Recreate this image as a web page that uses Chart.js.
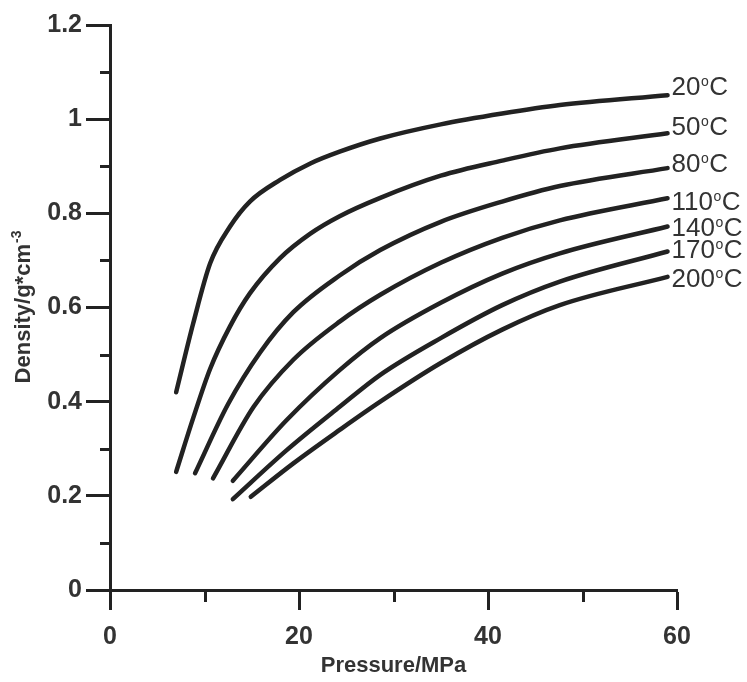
<!DOCTYPE html>
<html>
<head>
<meta charset="utf-8">
<script src="https://cdn.jsdelivr.net/npm/chart.js@4.4.1/dist/chart.umd.min.js"></script>
<style>
  html, body { margin: 0; padding: 0; background: #ffffff; }
  #wrap { width: 747px; height: 682px; position: relative; }
</style>
</head>
<body>
<div id="wrap"><canvas id="c" width="747" height="682"></canvas></div>
<script>
// ---------- data ----------
const temperatures = [20, 50, 80, 110, 140, 170, 200];

const pressure20 = [7, 8.8, 10.6, 12.7, 14.8, 18, 21.2, 24.3, 28.6, 35, 41.5, 47.6, 59];
const density20  = [0.42, 0.566, 0.694, 0.772, 0.825, 0.871, 0.906, 0.931, 0.959, 0.989, 1.012, 1.030, 1.051];

const pressure50 = [7, 8.8, 10.6, 12.7, 14.8, 18, 21.2, 24.3, 28.6, 35, 41.5, 47.6, 59];
const density50  = [0.251, 0.365, 0.47, 0.56, 0.63, 0.705, 0.757, 0.794, 0.833, 0.880, 0.912, 0.938, 0.970];

const pressure80 = [9, 12.5, 15.9, 19.4, 24.3, 28.6, 35, 41.5, 47.6, 59];
const density80  = [0.248, 0.395, 0.505, 0.59, 0.668, 0.722, 0.782, 0.825, 0.858, 0.896];

const pressure110 = [10.9, 15.2, 19.4, 24.3, 28.6, 35, 41.5, 47.6, 59];
const density110  = [0.237, 0.389, 0.489, 0.57, 0.627, 0.695, 0.748, 0.785, 0.832];

const pressure140 = [13, 18.7, 24.3, 28.6, 35, 41.5, 47.6, 59];
const density140  = [0.232, 0.361, 0.467, 0.535, 0.61, 0.672, 0.715, 0.772];

const pressure170 = [13, 18.7, 24.3, 28.6, 35, 41.5, 47.6, 59];
const density170  = [0.193, 0.297, 0.389, 0.457, 0.535, 0.605, 0.655, 0.719];

const pressure200 = [14.9, 19.4, 24.3, 28.6, 35, 41.5, 47.6, 59];
const density200  = [0.198, 0.269, 0.340, 0.400, 0.482, 0.553, 0.605, 0.665];

const xTickValues = [0, 10, 20, 30, 40, 50, 60];
const xTickLabels = ['0', '', '20', '', '40', '', '60'];
const yTickLabels = ['0', '', '0.2', '', '0.4', '', '0.6', '', '0.8', '', '1', '', '1.2'];

const xTitle = 'Pressure/MPa';
const yTitleMain = 'Density/g*cm';
const yTitleSup = '-3';

// ---------- styling ----------
const INK = '#222222';
const TEXT = '#333333';
const labelShift = [-10, -8, -6, 2, 0, -3, 1]; // px offset of the end labels

const pressures = [pressure20, pressure50, pressure80, pressure110, pressure140, pressure170, pressure200];
const densities = [density20, density50, density80, density110, density140, density170, density200];

const datasets = temperatures.map((t, i) => ({
  label: t + '°C',
  data: pressures[i].map((p, j) => ({ x: p, y: densities[i][j] })),
  borderColor: INK,
  borderWidth: 4.5,
  borderCapStyle: 'round',
  borderJoinStyle: 'round',
  pointRadius: 0,
  fill: false,
  cubicInterpolationMode: 'monotone',
  clip: false
}));

const minorTicks = {
  id: 'minorTicks',
  afterDraw(chart) {
    const ctx = chart.ctx;
    const xs = chart.scales.x, ys = chart.scales.y;
    const a = chart.chartArea;
    ctx.save();
    ctx.strokeStyle = INK;
    ctx.lineWidth = 3;
    ctx.lineCap = 'butt';
    ys.ticks.forEach((t, i) => {
      if (yTickLabels[i] === '') {
        const py = Math.round(ys.getPixelForValue(t.value)) + 0.5;
        ctx.beginPath(); ctx.moveTo(a.left - 10, py); ctx.lineTo(a.left, py); ctx.stroke();
      }
    });
    xs.ticks.forEach((t, i) => {
      if (xTickLabels[i] === '') {
        const px = Math.round(xs.getPixelForValue(t.value)) + 0.5;
        ctx.beginPath(); ctx.moveTo(px, a.bottom); ctx.lineTo(px, a.bottom + 12); ctx.stroke();
      }
    });
    ctx.restore();
  }
};

const textLayer = {
  id: 'textLayer',
  afterDatasetsDraw(chart) {
    const ctx = chart.ctx;
    const a = chart.chartArea;
    ctx.save();
    ctx.fillStyle = TEXT;
    ctx.textBaseline = 'alphabetic';
    // end labels
    chart.data.datasets.forEach((ds, i) => {
      const meta = chart.getDatasetMeta(i);
      const pt = meta.data[meta.data.length - 1];
      let x = pt.x + 4;
      const base = pt.y + labelShift[i] + 9.5;
      ctx.textAlign = 'left';
      ctx.font = '26px "Liberation Sans", Arial, sans-serif';
      const num = String(temperatures[i]);
      ctx.fillText(num, x, base);
      x += ctx.measureText(num).width + 0.5;
      ctx.font = '14px "Liberation Sans", Arial, sans-serif';
      ctx.fillText('o', x, base - 9);
      x += ctx.measureText('o').width + 0.5;
      ctx.font = '26px "Liberation Sans", Arial, sans-serif';
      ctx.fillText('C', x, base);
    });
    // x title
    ctx.font = 'bold 22px "Liberation Sans", Arial, sans-serif';
    ctx.textAlign = 'center';
    ctx.fillText(xTitle, (a.left + a.right) / 2, 672);
    // y title (rotated, with superscript)
    ctx.translate(30, (a.top + a.bottom) / 2);
    ctx.rotate(-Math.PI / 2);
    ctx.textAlign = 'left';
    ctx.font = 'bold 22px "Liberation Sans", Arial, sans-serif';
    const w1 = ctx.measureText(yTitleMain).width;
    ctx.font = 'bold 14px "Liberation Sans", Arial, sans-serif';
    const w2 = ctx.measureText(yTitleSup).width;
    const start = -(w1 + w2) / 2;
    ctx.font = 'bold 22px "Liberation Sans", Arial, sans-serif';
    ctx.fillText(yTitleMain, start, 0);
    ctx.font = 'bold 14px "Liberation Sans", Arial, sans-serif';
    ctx.fillText(yTitleSup, start + w1 + 1, -9);
    ctx.restore();
  }
};

new Chart(document.getElementById('c'), {
  type: 'line',
  data: { datasets },
  options: {
    responsive: false,
    animation: false,
    layout: { padding: { top: 25, right: 70, left: 0, bottom: 0 } },
    plugins: { legend: { display: false }, tooltip: { enabled: false } },
    scales: {
      x: {
        type: 'linear',
        min: 0, max: 60,
        afterBuildTicks: s => { s.ticks = xTickValues.map(v => ({ value: v })); },
        afterFit: s => { s.height = 92; },
        border: { display: true, color: INK, width: 3 },
        grid: {
          drawOnChartArea: false, drawTicks: true, tickLength: 20, tickWidth: 3,
          tickColor: c => (xTickLabels[c.index] === '' ? 'rgba(0,0,0,0)' : INK)
        },
        ticks: {
          autoSkip: false, maxRotation: 0, padding: 12,
          color: TEXT,
          font: { family: '"Liberation Sans", Arial, sans-serif', size: 25, weight: 'bold' },
          callback: (v, i) => xTickLabels[i]
        },
        title: { display: false }
      },
      y: {
        type: 'linear',
        min: 0, max: 1.2,
        ticks: {
          stepSize: 0.1, autoSkip: false, padding: 4,
          color: TEXT,
          font: { family: '"Liberation Sans", Arial, sans-serif', size: 25, weight: 'bold' },
          callback: (v, i) => yTickLabels[i]
        },
        afterFit: s => { s.width = 110; },
        border: { display: true, color: INK, width: 3 },
        grid: {
          drawOnChartArea: false, drawTicks: true, tickLength: 24, tickWidth: 3,
          tickColor: c => (yTickLabels[c.index] === '' ? 'rgba(0,0,0,0)' : INK)
        },
        title: { display: false }
      }
    }
  },
  plugins: [minorTicks, textLayer]
});
</script>
</body>
</html>
